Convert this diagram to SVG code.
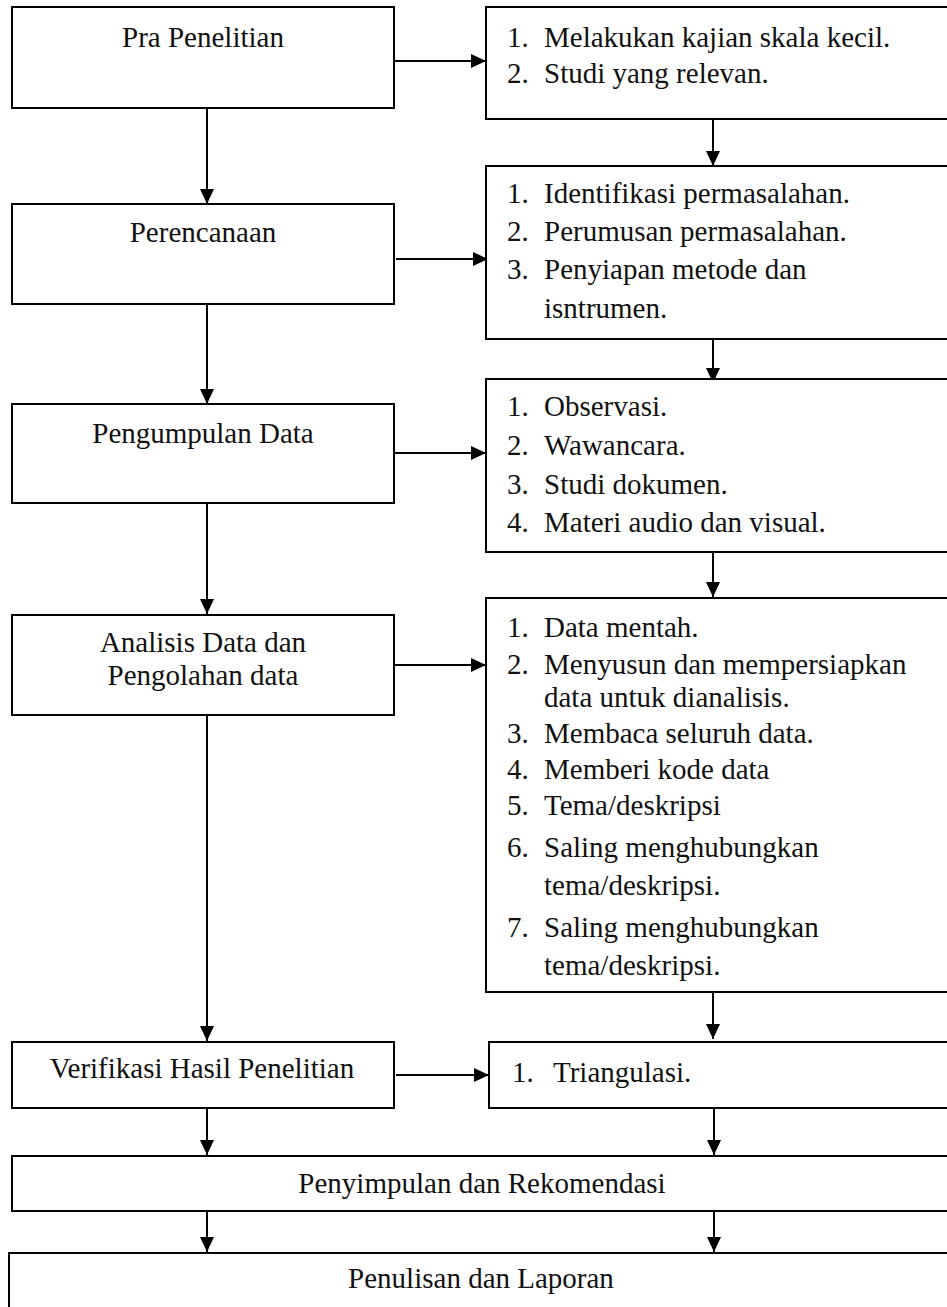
<svg xmlns="http://www.w3.org/2000/svg" width="947" height="1307" viewBox="0 0 947 1307" font-family="Liberation Serif, DejaVu Serif, serif">
<defs>
<style>
.box{fill:#fff;stroke:#000;stroke-width:2}
.t{font-size:29px;fill:#111}
.c{text-anchor:middle}
.ln{stroke:#000;stroke-width:2;fill:none}
</style>
<marker id="ah" markerUnits="userSpaceOnUse" markerWidth="15" markerHeight="14" refX="15" refY="7" orient="auto">
<path d="M0,0 L15,7 L0,14 z" fill="#000"/>
</marker>
</defs>
<rect width="947" height="1307" fill="#fff"/>

<g id="connectors">
<line class="ln" x1="394" y1="61" x2="486" y2="61" marker-end="url(#ah)"/>
<line class="ln" x1="207" y1="108" x2="207" y2="204" marker-end="url(#ah)"/>
<line class="ln" x1="713" y1="119" x2="713" y2="166" marker-end="url(#ah)"/>
<line class="ln" x1="396" y1="259" x2="488" y2="259" marker-end="url(#ah)"/>
<line class="ln" x1="207" y1="304" x2="207" y2="404" marker-end="url(#ah)"/>
<line class="ln" x1="713" y1="339" x2="713" y2="383" marker-end="url(#ah)"/>
<line class="ln" x1="394" y1="453" x2="486" y2="453" marker-end="url(#ah)"/>
<line class="ln" x1="207" y1="503" x2="207" y2="614" marker-end="url(#ah)"/>
<line class="ln" x1="713" y1="552" x2="713" y2="597" marker-end="url(#ah)"/>
<line class="ln" x1="394" y1="665" x2="486" y2="665" marker-end="url(#ah)"/>
<line class="ln" x1="207" y1="715" x2="207" y2="1041" marker-end="url(#ah)"/>
<line class="ln" x1="713" y1="992" x2="713" y2="1039" marker-end="url(#ah)"/>
<line class="ln" x1="396" y1="1075" x2="489" y2="1075" marker-end="url(#ah)"/>
<line class="ln" x1="207" y1="1108" x2="207" y2="1155" marker-end="url(#ah)"/>
<line class="ln" x1="714" y1="1108" x2="714" y2="1155" marker-end="url(#ah)"/>
<line class="ln" x1="207" y1="1211" x2="207" y2="1252" marker-end="url(#ah)"/>
<line class="ln" x1="714" y1="1211" x2="714" y2="1252" marker-end="url(#ah)"/>
</g>

<g id="pra">
<rect class="box" x="12" y="7" width="382" height="101"/>
<text class="t c" x="203" y="47">Pra Penelitian</text>
</g>
<g id="perencanaan">
<rect class="box" x="12" y="204" width="382" height="100"/>
<text class="t c" x="203" y="242">Perencanaan</text>
</g>
<g id="pengumpulan">
<rect class="box" x="12" y="404" width="382" height="99"/>
<text class="t c" x="203" y="443">Pengumpulan Data</text>
</g>
<g id="analisis">
<rect class="box" x="12" y="615" width="382" height="100"/>
<text class="t c" x="203" y="652">Analisis Data dan</text>
<text class="t c" x="203" y="685">Pengolahan data</text>
</g>
<g id="verifikasi">
<rect class="box" x="12" y="1042" width="382" height="66"/>
<text class="t c" x="202" y="1078">Verifikasi Hasil Penelitian</text>
</g>

<g id="r1">
<rect class="box" x="486" y="7" width="470" height="112"/>
<text class="t" x="507" y="47">1.</text><text class="t" x="544" y="47">Melakukan kajian skala kecil.</text>
<text class="t" x="507" y="83">2.</text><text class="t" x="544" y="83">Studi yang relevan.</text>
</g>
<g id="r2">
<rect class="box" x="486" y="166" width="470" height="173"/>
<text class="t" x="507" y="203">1.</text><text class="t" x="544" y="203">Identifikasi permasalahan.</text>
<text class="t" x="507" y="241">2.</text><text class="t" x="544" y="241">Perumusan permasalahan.</text>
<text class="t" x="507" y="279">3.</text><text class="t" x="544" y="279">Penyiapan metode dan</text>
<text class="t" x="544" y="318">isntrumen.</text>
</g>
<g id="r3">
<rect class="box" x="486" y="379" width="470" height="173"/>
<text class="t" x="507" y="416">1.</text><text class="t" x="544" y="416">Observasi.</text>
<text class="t" x="507" y="455">2.</text><text class="t" x="544" y="455">Wawancara.</text>
<text class="t" x="507" y="494">3.</text><text class="t" x="544" y="494">Studi dokumen.</text>
<text class="t" x="507" y="532">4.</text><text class="t" x="544" y="532">Materi audio dan visual.</text>
</g>
<g id="r4">
<rect class="box" x="486" y="598" width="470" height="394"/>
<text class="t" x="507" y="637">1.</text><text class="t" x="544" y="637">Data mentah.</text>
<text class="t" x="507" y="674">2.</text><text class="t" x="544" y="674">Menyusun dan mempersiapkan</text>
<text class="t" x="544" y="707">data untuk dianalisis.</text>
<text class="t" x="507" y="743">3.</text><text class="t" x="544" y="743">Membaca seluruh data.</text>
<text class="t" x="507" y="779">4.</text><text class="t" x="544" y="779">Memberi kode data</text>
<text class="t" x="507" y="815">5.</text><text class="t" x="544" y="815">Tema/deskripsi</text>
<text class="t" x="507" y="857">6.</text><text class="t" x="544" y="857">Saling menghubungkan</text>
<text class="t" x="544" y="895">tema/deskripsi.</text>
<text class="t" x="507" y="937">7.</text><text class="t" x="544" y="937">Saling menghubungkan</text>
<text class="t" x="544" y="975">tema/deskripsi.</text>
</g>
<g id="triangulasi">
<rect class="box" x="489" y="1042" width="470" height="66"/>
<text class="t" x="512" y="1082">1.</text><text class="t" x="553" y="1082">Triangulasi.</text>
</g>
<g id="penyimpulan">
<rect class="box" x="12" y="1156" width="945" height="55"/>
<text class="t c" x="482" y="1193">Penyimpulan dan Rekomendasi</text>
</g>
<g id="penulisan">
<rect class="box" x="9" y="1253" width="948" height="70"/>
<text class="t c" x="481" y="1288">Penulisan dan Laporan</text>
</g>
</svg>
